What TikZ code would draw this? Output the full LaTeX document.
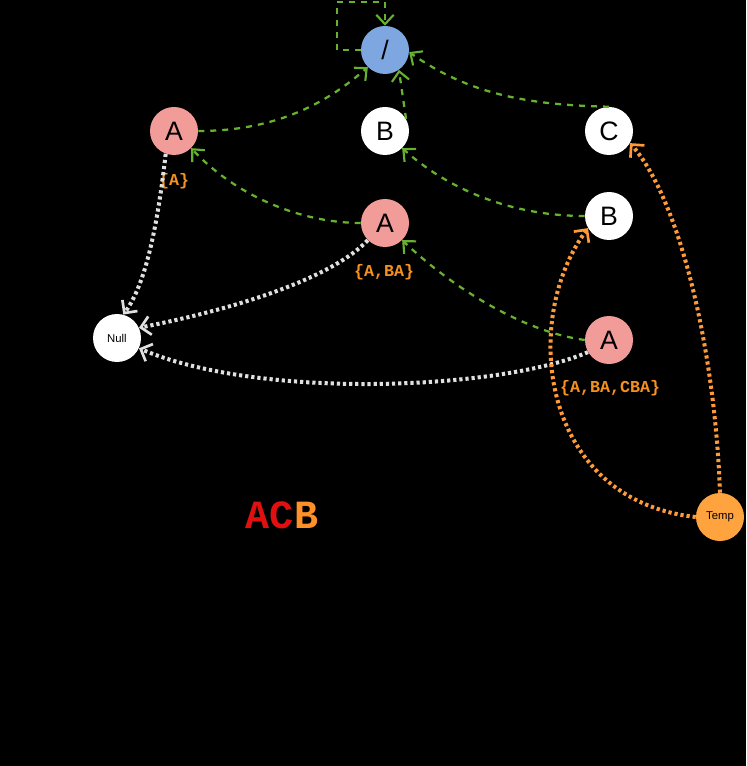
\documentclass[tikz,border=0pt]{standalone}
\usepackage{fontspec}
\setmainfont{Liberation Sans}
\newfontfamily\courierb{Liberation Mono Bold}
\usetikzlibrary{arrows.meta}
\definecolor{pinkfill}{HTML}{F19C99}
\definecolor{bluefill}{HTML}{7EA6E0}
\definecolor{tempfill}{HTML}{FFA33F}
\definecolor{gline}{HTML}{66B22E}
\definecolor{grayline}{HTML}{E0E0E0}
\definecolor{oline}{HTML}{FF9A38}
\definecolor{olabel}{HTML}{F7911E}
\definecolor{redtxt}{HTML}{E01010}
\definecolor{orangetxt}{HTML}{FF9028}
\tikzset{
  tnode/.style={circle, minimum size=36pt, inner sep=0pt, font=\fontsize{20}{20}\selectfont},
  smallnode/.style={circle, minimum size=36pt, inner sep=0pt, font=\fontsize{8.5}{8.5}\selectfont},
  gedge/.style={draw=gline, line width=1.7pt, dash pattern=on 4.5pt off 4.5pt,
     -{Straight Barb[length=7pt,width=13pt,line width=1.6pt]}},
  gyedge/.style={draw=grayline, line width=3pt, dash pattern=on 2.4pt off 2.2pt,
     -{Straight Barb[length=7pt,width=14pt,line width=2pt]}},
  oedge/.style={draw=oline, line width=3pt, dash pattern=on 2.4pt off 2.2pt,
     -{Straight Barb[length=7pt,width=14pt,line width=2pt]}},
  setlabel/.style={text=olabel, font=\courierb\fontsize{12.5}{12.5}\selectfont, inner sep=0pt}
}
\begin{document}
\begin{tikzpicture}[x=0.75pt,y=-0.75pt]
\fill[black] (0,0) rectangle (746,766);
\useasboundingbox (0,0) rectangle (746,766);

\node[tnode, fill=bluefill] (root) at (385,50) {/};
\node[tnode, fill=pinkfill] (a1) at (174,131) {A};
\node[tnode, fill=white] (b1) at (385,131) {B};
\node[tnode, fill=white] (c1) at (609,131) {C};
\node[tnode, fill=pinkfill] (a2) at (385,223) {A};
\node[tnode, fill=white] (b2) at (609,216) {B};
\node[tnode, fill=pinkfill] (a3) at (609,340) {A};
\node[smallnode, fill=white] (null) at (117,338) {Null};
\node[smallnode, fill=tempfill] (temp) at (720,517) {Temp};

\node[setlabel] (l1) at (174,181) {\{A\}};
\node[setlabel] (l2) at (384,272) {\{A,BA\}};
\node[setlabel] (l3) at (610,388) {\{A,BA,CBA\}};
\node[font=\courierb\fontsize{30}{30}\selectfont, inner sep=0pt] (acb) at (282,515)
  {\textcolor{redtxt}{AC}\textcolor{orangetxt}{B}};

% green dashed edges
\coordinate (lp1) at (337,50);
\coordinate (lp2) at (337,2);
\coordinate (lp3) at (385,2);
\draw[gedge] (root.west) -- (lp1) -- (lp2) -- (lp3) -- (root.north);
\draw[gedge] (a1.east) .. controls (280,131) and (330,100) .. (root.south west);
\draw[gedge] (b1.30) -- (root.-55);
\draw[gedge] (c1.north) .. controls (530,105) and (470,95) .. (root.-5);
\draw[gedge] (a2.west) .. controls (300,223) and (235,195) .. (a1.-45);
\draw[gedge] (b2.west) .. controls (520,216) and (455,195) .. (b1.-45);
\draw[gedge] (a3.west) .. controls (525,332) and (455,290) .. (a2.-45);

% gray dotted edges
\draw[gyedge] (a1.-110) .. controls (157,230) and (145,285) .. (null.75);
\draw[gyedge] (a2.-135) .. controls (330,280) and (230,310) .. (null.25);
\draw[gyedge] (a3.-150) .. controls (500,390) and (260,400) .. (null.-25);

% orange dotted edges
\draw[oedge] (temp.north) .. controls (715,350) and (680,200) .. (c1.-30);
\draw[oedge] (temp.west) .. controls (540,500) and (520,320) .. (b2.-150);
\end{tikzpicture}
\end{document}
